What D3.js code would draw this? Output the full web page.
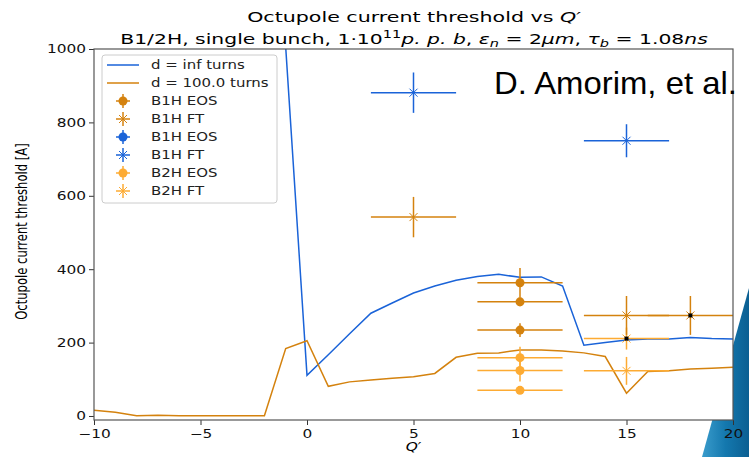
<!DOCTYPE html>
<html>
<head>
<meta charset="utf-8">
<script src="https://cdn.jsdelivr.net/npm/d3@7"></script>
<style>
  body { margin: 0; background: #fff; }
  svg { display: block; }
  text { font-family: "DejaVu Sans", sans-serif; }
</style>
</head>
<body>
<div id="chart"></div>
<script>
// d = inf turns, integer Q'
const qInf = [-1, 0, 1, 2, 3, 4, 5, 6, 7, 8, 9, 10, 11, 12, 13, 14, 15, 16, 17, 18, 19, 20];
const thrInf = [1005, 111, 167, 224, 280, 308, 335, 354, 370, 380, 386, 378, 379, 354, 193, 200, 207, 210, 210, 214, 211, 210];

// d = 100.0 turns
const q100 = [-10, -9, -8, -7, -6, -5, -4, -3, -2, -1, 0, 1, 2, 3, 4, 5, 6, 7, 8, 9, 10, 11, 12, 13, 14, 15, 16, 17, 18, 19, 20];
const thr100 = [16, 10, 1, 2, 1, 1, 1, 1, 1, 184, 205, 81, 93, 98, 103, 107, 116, 160, 171, 172, 180, 180, 177, 172, 162, 62, 121, 123, 128, 130, 133];

// measurements: [Q', threshold, xerr, yerr]
const b1hEosOrange = [[10, 363, 2, 40], [10, 311, 2, 12], [10, 234, 2, 19]];
const b1hFtOrange = [[5, 542, 2, 55], [15, 274, 2, 53], [18, 274, 2, 53]];
const b1hEosBlue = [];
const b1hFtBlue = [[5, 881, 2, 55], [15, 750, 2, 45]];
const b2hEos = [[10, 159, 2, 30], [10, 124, 2, 30], [10, 70, 2, 4]];
const b2hFt = [[15, 211, 2, 30], [15, 123, 2, 38]];
const blackDots = [[15, 211], [18, 274]];

const xTicks = [-10, -5, 0, 5, 10, 15, 20];
const yTicks = [0, 200, 400, 600, 800, 1000];

const W = 749, H = 457;
const m = { left: 94, right: 733, top: 49, bottom: 420 };
const cBlue = "#1a63d8", cOrange = "#d4820e", cLight = "#fdab33";
const sx = 1.28; // the figure was stretched sideways

const svg = d3.select("#chart").append("svg").attr("width", W).attr("height", H);

// decorative corner from the slide
const defs = svg.append("defs");
const grad = defs.append("linearGradient").attr("id", "corner")
  .attr("x1", "0").attr("y1", "0").attr("x2", "1").attr("y2", "0");
grad.append("stop").attr("offset", "0").attr("stop-color", "#3a9ccc");
grad.append("stop").attr("offset", "0.5").attr("stop-color", "#1478ae");
grad.append("stop").attr("offset", "1").attr("stop-color", "#0b5f92");
defs.append("clipPath").attr("id", "plotclip")
  .append("rect").attr("x", m.left).attr("y", m.top)
  .attr("width", m.right - m.left).attr("height", m.bottom - m.top);
svg.append("path").attr("d", "M749,288 L749,457 L702,457 Z").attr("fill", "url(#corner)");

const x = d3.scaleLinear().domain([-10, 20]).range([m.left, m.right]);
const y = d3.scaleLinear().domain([-10.9, 1000]).range([m.bottom, m.top]);

const plot = svg.append("g").attr("clip-path", "url(#plotclip)");
plot.append("rect").attr("x", m.left).attr("y", m.top)
  .attr("width", m.right - m.left).attr("height", m.bottom - m.top).attr("fill", "#fff");

const line = d3.line().x(d => x(d[0])).y(d => y(d[1]));
plot.append("path").datum(d3.zip(qInf, thrInf)).attr("d", line)
  .attr("fill", "none").attr("stroke", cBlue).attr("stroke-width", 1.5);
plot.append("path").datum(d3.zip(q100, thr100)).attr("d", line)
  .attr("fill", "none").attr("stroke", cOrange).attr("stroke-width", 1.5);

function errorbars(data, color, marker) {
  const g = plot.append("g");
  data.forEach(d => {
    g.append("line").attr("x1", x(d[0] - d[2])).attr("x2", x(d[0] + d[2]))
      .attr("y1", y(d[1])).attr("y2", y(d[1])).attr("stroke", color).attr("stroke-width", 1.5);
    g.append("line").attr("x1", x(d[0])).attr("x2", x(d[0]))
      .attr("y1", y(d[1] - d[3])).attr("y2", y(d[1] + d[3])).attr("stroke", color).attr("stroke-width", 1.5);
    drawMarker(g, x(d[0]), y(d[1]), color, marker);
  });
}

function drawMarker(g, cx, cy, color, marker) {
  if (marker === "o") {
    g.append("circle").attr("cx", cx).attr("cy", cy).attr("r", 4.5).attr("fill", color);
  } else {
    const s = 4;
    g.append("path").attr("d", `M${cx - s},${cy - s}L${cx + s},${cy + s}M${cx - s},${cy + s}L${cx + s},${cy - s}`)
      .attr("stroke", color).attr("stroke-width", 1);
  }
}

errorbars(b2hEos, cLight, "o");
errorbars(b2hFt, cLight, "x");
errorbars(b1hEosOrange, cOrange, "o");
errorbars(b1hFtOrange, cOrange, "x");
errorbars(b1hEosBlue, cBlue, "o");
errorbars(b1hFtBlue, cBlue, "x");

plot.append("g").selectAll("rect").data(blackDots).enter().append("rect")
  .attr("x", d => x(d[0]) - 2).attr("y", d => y(d[1]) - 2)
  .attr("width", 4).attr("height", 4).attr("fill", "#000");

// axes
const xAxis = svg.append("g").attr("transform", `translate(0,${m.bottom})`)
  .call(d3.axisBottom(x).tickValues(xTicks).tickSize(5).tickPadding(2)
    .tickFormat(d => d < 0 ? "\u2212" + Math.abs(d) : String(d)));
const yAxis = svg.append("g").attr("transform", `translate(${m.left},0)`)
  .call(d3.axisLeft(y).tickValues(yTicks).tickSize(5).tickPadding(4).tickFormat(d3.format("d")));
[xAxis, yAxis].forEach(a => {
  a.select(".domain").remove();
  a.selectAll("line").attr("stroke", "#333");
  a.selectAll("text").attr("font-size", 12).attr("fill", "#111").attr("font-family", null);
});
xAxis.selectAll(".tick text").attr("transform", `scale(${sx},1)`).attr("dy", "0.95em");
yAxis.selectAll(".tick text").attr("x", -8 / sx).attr("transform", `scale(${sx},1)`);

svg.append("rect").attr("x", m.left).attr("y", m.top)
  .attr("width", m.right - m.left).attr("height", m.bottom - m.top)
  .attr("fill", "none").attr("stroke", "#555").attr("stroke-width", 1.2);

// labels
svg.append("text").attr("transform", `translate(${x(5)},451) scale(${sx},1)`).attr("text-anchor", "middle")
  .attr("font-size", 12).attr("font-style", "italic").text("Q\u2032");
svg.append("text").attr("transform", `translate(27,${(m.top + m.bottom) / 2 - 3}) scale(1.35,1) rotate(-90)`)
  .attr("text-anchor", "middle").attr("font-size", 11.6).text("Octupole current threshold [A]");

// stretch a text so it spans a given width
function fit(sel, cx, cy, width) {
  const w = sel.node().getBBox().width;
  sel.attr("transform", `translate(${cx},${cy}) scale(${width / w},1)`);
}

const t1 = svg.append("text").attr("text-anchor", "middle").attr("font-size", 14);
t1.append("tspan").text("Octupole current threshold vs ");
t1.append("tspan").attr("font-style", "italic").text("Q\u2032");
fit(t1, 414, 22, 335);

const t2 = svg.append("text").attr("text-anchor", "middle").attr("font-size", 14);
t2.append("tspan").text("B1/2H, single bunch, 1\u00b710");
t2.append("tspan").attr("font-size", 10).attr("dy", -6).text("11");
t2.append("tspan").attr("font-style", "italic").attr("dy", 6).text("p. p. b");
t2.append("tspan").text(", ");
t2.append("tspan").attr("font-style", "italic").text("\u03b5");
t2.append("tspan").attr("font-style", "italic").attr("font-size", 10).attr("dy", 3).text("n");
t2.append("tspan").attr("dy", -3).text(" = 2");
t2.append("tspan").attr("font-style", "italic").text("\u03bcm");
t2.append("tspan").text(", ");
t2.append("tspan").attr("font-style", "italic").text("\u03c4");
t2.append("tspan").attr("font-style", "italic").attr("font-size", 10).attr("dy", 3).text("b");
t2.append("tspan").attr("dy", -3).text(" = 1.08");
t2.append("tspan").attr("font-style", "italic").text("ns");
fit(t2, 414, 44, 588);

const credit = svg.append("text").style("font-family", "'Liberation Sans', Arial, sans-serif")
  .attr("font-size", 31).attr("fill", "#000").text("D. Amorim, et al.");
fit(credit, 494, 94, 243);

// legend
const legendItems = [
  { label: "d = inf turns", color: cBlue, kind: "line" },
  { label: "d = 100.0 turns", color: cOrange, kind: "line" },
  { label: "B1H EOS", color: cOrange, kind: "o" },
  { label: "B1H FT", color: cOrange, kind: "x" },
  { label: "B1H EOS", color: cBlue, kind: "o" },
  { label: "B1H FT", color: cBlue, kind: "x" },
  { label: "B2H EOS", color: cLight, kind: "o" },
  { label: "B2H FT", color: cLight, kind: "x" }
];
const lg = svg.append("g");
lg.append("rect").attr("x", 102).attr("y", 55).attr("width", 175).attr("height", 148)
  .attr("rx", 3).attr("fill", "#fff").attr("fill-opacity", 0.85).attr("stroke", "#ccc");
legendItems.forEach((d, i) => {
  const ly = 65 + i * 18;
  if (d.kind === "line") {
    lg.append("line").attr("x1", 107).attr("x2", 139).attr("y1", ly).attr("y2", ly)
      .attr("stroke", d.color).attr("stroke-width", 1.5);
  } else {
    lg.append("line").attr("x1", 116).attr("x2", 130).attr("y1", ly).attr("y2", ly)
      .attr("stroke", d.color).attr("stroke-width", 1.5);
    lg.append("line").attr("x1", 123).attr("x2", 123).attr("y1", ly - 7).attr("y2", ly + 7)
      .attr("stroke", d.color).attr("stroke-width", 1.5);
    drawMarker(lg, 123, ly, d.color, d.kind);
  }
  lg.append("text").attr("transform", `translate(151,${ly}) scale(${sx},1)`).attr("dy", "0.35em")
    .attr("font-size", 11.7).attr("fill", "#222").text(d.label);
});
</script>
</body>
</html>
